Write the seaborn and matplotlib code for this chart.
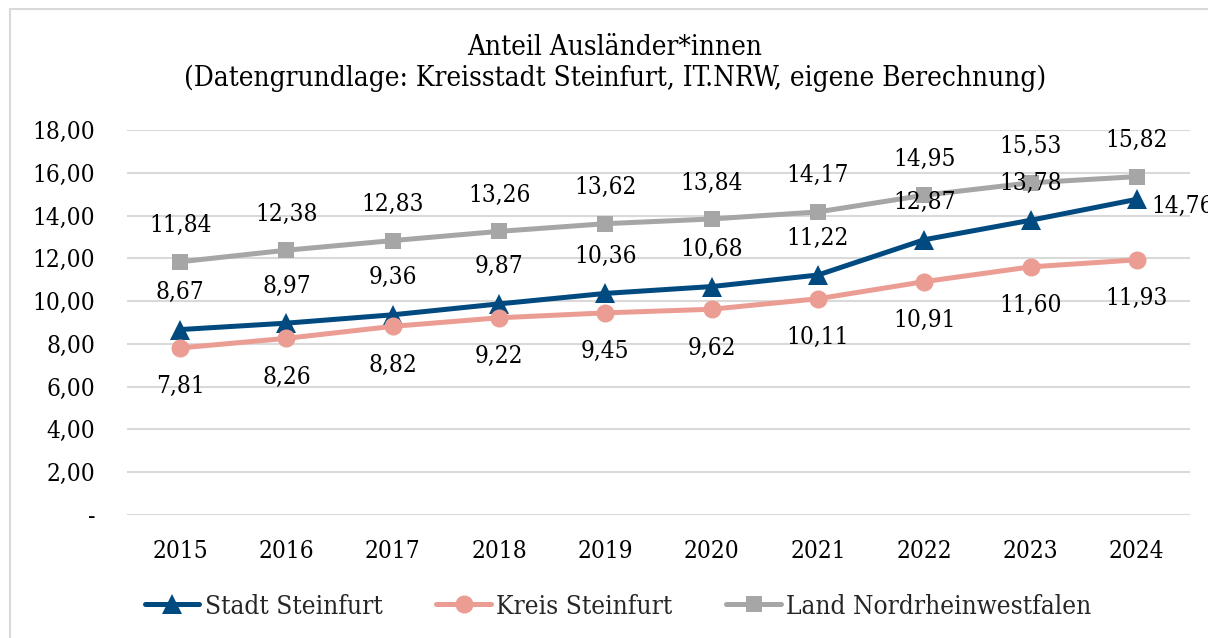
import matplotlib
matplotlib.use("Agg")
import matplotlib.pyplot as plt
from matplotlib.lines import Line2D
from matplotlib.ticker import FuncFormatter
import seaborn as sns
import pandas as pd

years = [2015, 2016, 2017, 2018, 2019, 2020, 2021, 2022, 2023, 2024]
stadt = [8.67, 8.97, 9.36, 9.87, 10.36, 10.68, 11.22, 12.87, 13.78, 14.76]
kreis = [7.81, 8.26, 8.82, 9.22, 9.45, 9.62, 10.11, 10.91, 11.60, 11.93]
land = [11.84, 12.38, 12.83, 13.26, 13.62, 13.84, 14.17, 14.95, 15.53, 15.82]
series_names = ["Stadt Steinfurt", "Kreis Steinfurt", "Land Nordrheinwestfalen"]
title = "Anteil Ausländer*innen\n(Datengrundlage: Kreisstadt Steinfurt, IT.NRW, eigene Berechnung)"
y_ticks = [0, 2, 4, 6, 8, 10, 12, 14, 16, 18]

colors = {"Stadt Steinfurt": "#004a80", "Kreis Steinfurt": "#eb9d93", "Land Nordrheinwestfalen": "#a6a6a6"}
markers = {"Stadt Steinfurt": "^", "Kreis Steinfurt": "o", "Land Nordrheinwestfalen": "s"}
msizes = {"Stadt Steinfurt": 14, "Kreis Steinfurt": 13, "Land Nordrheinwestfalen": 12}

sns.set_theme(style="white")
plt.rcParams["font.family"] = ["DejaVu Serif", "DejaVu Sans"]
plt.rcParams["font.stretch"] = "condensed"
FS = 17.5

W, H = 1208, 638
fig = plt.figure(figsize=(W / 100, H / 100), dpi=100)
fig.patch.set_facecolor("white")
ax = fig.add_axes([127 / W, (H - 515) / H, (1190 - 127) / W, (515 - 130) / H])

df = pd.DataFrame({
    "Jahr": years * 3,
    "Wert": stadt + kreis + land,
    "Reihe": [series_names[0]] * len(years) + [series_names[1]] * len(years) + [series_names[2]] * len(years),
})

for name in series_names:
    sub = df[df["Reihe"] == name]
    sns.lineplot(data=sub, x="Jahr", y="Wert", ax=ax, color=colors[name], linewidth=3.6,
                 marker=markers[name], markersize=msizes[name], markeredgewidth=0,
                 label=name, zorder=3)

def fmt(v):
    return f"{v:.2f}".replace(".", ",")

# data labels
for x, v in zip(years, land):
    ax.annotate(fmt(v), (x, v), xytext=(0, 36), textcoords="offset pixels",
                ha="center", va="center", fontsize=FS, color="#000000", zorder=5)
for i, (x, v) in enumerate(zip(years, stadt)):
    if i == len(years) - 1:
        ax.annotate(fmt(v), (x, v), xytext=(14, -7), textcoords="offset pixels",
                    ha="left", va="center", fontsize=FS, color="#000000", zorder=5, annotation_clip=False)
    else:
        ax.annotate(fmt(v), (x, v), xytext=(0, 37), textcoords="offset pixels",
                    ha="center", va="center", fontsize=FS, color="#000000", zorder=5)
for x, v in zip(years, kreis):
    ax.annotate(fmt(v), (x, v), xytext=(0, -39), textcoords="offset pixels",
                ha="center", va="center", fontsize=FS, color="#000000", zorder=5)

ax.set_xlim(years[0] - 0.5, years[-1] + 0.5)
ax.set_ylim(y_ticks[0], y_ticks[-1])
ax.set_xticks(years)
ax.set_xticklabels([str(y) for y in years])
ax.set_yticks(y_ticks)
ax.yaxis.set_major_formatter(FuncFormatter(lambda v, p: "-" if v == 0 else fmt(v)))
ax.grid(axis="y", color="#d9d9d9", linewidth=1.5, zorder=0)
ax.grid(axis="x", visible=False)
for s in ax.spines.values():
    s.set_visible(False)
ax.tick_params(axis="y", length=0, pad=23, labelsize=FS, labelcolor="#000000")
ax.tick_params(axis="x", length=0, pad=18, labelsize=FS, labelcolor="#000000")
ax.set_xlabel("")
ax.set_ylabel("")
ax.set_axisbelow(True)

if ax.legend_ is not None:
    ax.legend_.remove()
LFS = 18.8
handles = [Line2D([0], [0], color=colors[n], linewidth=3.6, marker=markers[n], markersize=msizes[n],
                  markeredgewidth=0) for n in series_names]
fig.legend(handles, series_names, loc="center", bbox_to_anchor=(618 / W, (H - 606) / H), ncol=3,
           frameon=False, fontsize=LFS, handlelength=2.1, handletextpad=0.2, columnspacing=2.06)

fig.text(615 / W, (H - 63) / H, title, ha="center", va="center", fontsize=20, linespacing=1.2,
         color="#000000")

# outer frame (top and left visible)
fig.add_artist(Line2D([10 / W, 1.0], [(H - 9) / H, (H - 9) / H], color="#d9d9d9", linewidth=1.5,
                      transform=fig.transFigure))
fig.add_artist(Line2D([10 / W, 10 / W], [0, (H - 9) / H], color="#d9d9d9", linewidth=1.5,
                      transform=fig.transFigure))

fig.savefig("out.png", dpi=100, facecolor="white")
